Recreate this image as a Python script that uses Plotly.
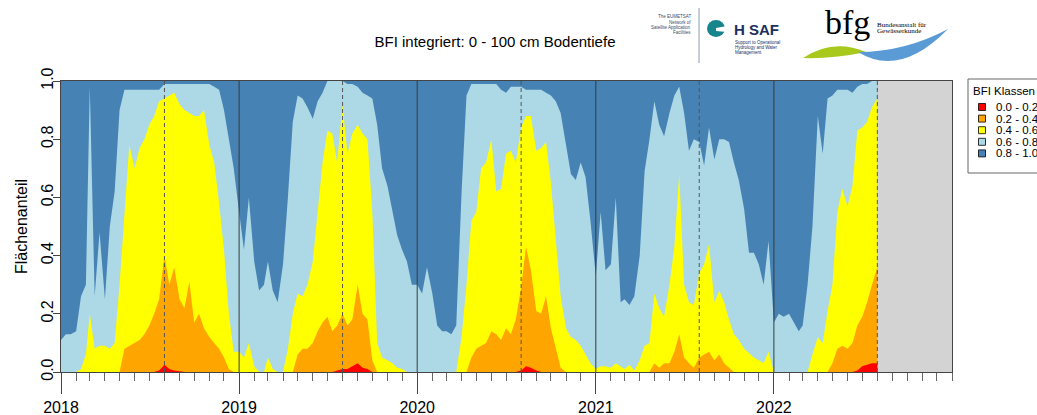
import plotly.graph_objects as go
import pandas as pd

# ---------------- data ----------------
years = [2018, 2019, 2020, 2021, 2022]
year_labels = ["2018", "2019", "2020", "2021", "2022"]
classes = ["0.0 - 0.2", "0.2 - 0.4", "0.4 - 0.6", "0.6 - 0.8", "0.8 - 1.0"]
class_colors = ["#FF0000", "#FFA500", "#FFFF00", "#ADD8E6", "#4682B4"]
y_ticks = [0.0, 0.2, 0.4, 0.6, 0.8, 1.0]
y_ticklabels = ["0.0", "0.2", "0.4", "0.6", "0.8", "1.0"]
last_date = "2022-08-01"

# sampling dates: 1st, 11th, 21st of every month up to the last date
dates = [pd.Timestamp(y, m, d) for y in years for m in range(1, 13) for d in (1, 11, 21)
         if pd.Timestamp(y, m, d) <= pd.Timestamp(last_date)]

# cumulative area share with BFI <= 0.2
share_le_02 = [
    # 2018
    0, 0, 0, 0, 0, 0, 0, 0, 0, 0, 0, 0, 0, 0, 0, 0, 0, 0, 0, 0,
    0.005, 0.025, 0.01, 0.005, 0.003, 0, 0, 0, 0, 0, 0, 0, 0, 0, 0, 0,
    # 2019
    0, 0, 0, 0, 0, 0, 0, 0, 0, 0, 0, 0, 0, 0, 0, 0, 0, 0, 0, 0,
    0.005, 0.01, 0.01, 0.02, 0.03, 0.015, 0.01, 0, 0, 0, 0, 0, 0, 0, 0, 0,
    # 2020
    0, 0, 0, 0, 0, 0, 0, 0, 0, 0, 0, 0, 0, 0, 0, 0, 0, 0, 0, 0, 0,
    0.005, 0.02, 0.015, 0.005, 0, 0, 0, 0, 0, 0, 0, 0, 0, 0, 0,
    # 2021
    0, 0, 0, 0, 0, 0, 0, 0, 0, 0, 0, 0, 0, 0, 0, 0, 0, 0, 0, 0,
    0, 0, 0, 0, 0, 0, 0, 0, 0, 0, 0, 0, 0, 0, 0, 0,
    # 2022
    0, 0, 0, 0, 0, 0, 0, 0, 0, 0, 0, 0, 0, 0, 0, 0, 0,
    0.005, 0.02, 0.025, 0.03, 0.03,
]
# cumulative area share with BFI <= 0.4
share_le_04 = [
    # 2018
    0, 0, 0, 0, 0, 0, 0, 0, 0, 0, 0, 0,
    0.0, 0.08, 0.09, 0.10, 0.11, 0.13, 0.16, 0.20, 0.25, 0.40, 0.30, 0.36,
    0.25, 0.22, 0.31, 0.17, 0.20, 0.15, 0.12, 0.10, 0.08, 0.05, 0.01, 0,
    # 2019
    0, 0, 0, 0, 0, 0, 0, 0, 0, 0, 0,
    0.0, 0.06, 0.08, 0.08, 0.10, 0.14, 0.17, 0.19, 0.14, 0.16, 0.20, 0.16,
    0.18, 0.30, 0.20, 0.18, 0.04, 0, 0, 0, 0, 0, 0, 0, 0,
    # 2020
    0, 0, 0, 0, 0, 0, 0, 0, 0, 0, 0,
    0.05, 0.08, 0.09, 0.10, 0.14, 0.13, 0.11, 0.15, 0.13, 0.18, 0.29, 0.43,
    0.35, 0.21, 0.20, 0.26, 0.15, 0.08, 0.015, 0, 0, 0, 0, 0, 0,
    # 2021
    0, 0, 0, 0, 0, 0, 0, 0, 0, 0, 0, 0,
    0.03, 0.015, 0.03, 0.03, 0.07, 0.13, 0.05, 0.03, 0.015, 0.05, 0.06, 0.07,
    0.04, 0.06, 0.03, 0.015, 0, 0, 0, 0, 0, 0, 0, 0,
    # 2022
    0, 0, 0, 0, 0, 0, 0, 0, 0, 0, 0, 0,
    0.03, 0.08, 0.09, 0.08, 0.10, 0.16, 0.19, 0.24, 0.30, 0.36,
]
# cumulative area share with BFI <= 0.6
share_le_06 = [
    # 2018
    0, 0, 0, 0, 0.01, 0.06, 0.20, 0.08, 0.09, 0.09, 0.08, 0.10,
    0.30, 0.56, 0.78, 0.70, 0.77, 0.80, 0.85, 0.88, 0.93, 0.94, 0.95, 0.96,
    0.92, 0.90, 0.89, 0.88, 0.88, 0.90, 0.78, 0.72, 0.58, 0.42, 0.20, 0.07,
    # 2019
    0.07, 0.05, 0.10, 0.02, 0, 0, 0.05, 0.01, 0, 0, 0.08, 0.20,
    0.27, 0.26, 0.30, 0.38, 0.55, 0.72, 0.83, 0.82, 0.72, 0.92, 0.75, 0.82,
    0.85, 0.82, 0.80, 0.55, 0.10, 0.05, 0.04, 0.03, 0.015, 0.01, 0, 0,
    # 2020
    0, 0, 0, 0, 0, 0, 0, 0, 0, 0.12, 0.30, 0.52,
    0.55, 0.70, 0.72, 0.80, 0.62, 0.63, 0.75, 0.76, 0.72, 0.84, 0.88, 0.88,
    0.76, 0.77, 0.79, 0.65, 0.44, 0.26, 0.15, 0.12, 0.11, 0.09, 0.06, 0.03,
    # 2021
    0.01, 0.02, 0.02, 0.015, 0.03, 0.02, 0.01, 0.025, 0.005, 0.04, 0.09, 0.10,
    0.27, 0.22, 0.19, 0.30, 0.43, 0.68, 0.30, 0.24, 0.23, 0.34, 0.37, 0.44,
    0.24, 0.28, 0.24, 0.18, 0.13, 0.11, 0.08, 0.065, 0.05, 0.04, 0.03, 0.07,
    # 2022
    0, 0, 0, 0, 0, 0, 0, 0, 0.06, 0.12, 0.10, 0.21,
    0.30, 0.55, 0.63, 0.57, 0.64, 0.83, 0.84, 0.86, 0.91, 0.94,
]
# cumulative area share with BFI <= 0.8
share_le_08 = [
    # 2018
    0.11, 0.13, 0.13, 0.14, 0.26, 0.30, 0.98, 0.26, 0.48, 0.25, 0.50, 0.62,
    0.90, 0.97, 0.97, 0.97, 0.97, 0.97, 0.97, 0.97, 0.97, 0.99, 0.99, 0.99,
    0.99, 0.99, 0.99, 0.99, 0.99, 0.99, 0.99, 0.98, 0.97, 0.90, 0.80, 0.70,
    # 2019
    0.55, 0.42, 0.60, 0.38, 0.28, 0.30, 0.38, 0.28, 0.24, 0.37, 0.60, 0.86,
    0.95, 0.94, 0.91, 0.87, 0.93, 0.96, 1.0, 1.0, 1.0, 1.0, 0.99, 0.99,
    0.98, 0.96, 0.95, 0.94, 0.85, 0.70, 0.64, 0.55, 0.47, 0.42, 0.38, 0.30,
    # 2020
    0.30, 0.27, 0.36, 0.27, 0.16, 0.14, 0.14, 0.13, 0.16, 0.62, 0.95, 0.99,
    0.99, 0.99, 0.99, 0.99, 0.99, 0.97, 0.96, 0.98, 0.98, 0.98, 0.97, 0.97,
    0.97, 0.97, 0.96, 0.95, 0.93, 0.89, 0.78, 0.68, 0.66, 0.72, 0.67, 0.52,
    # 2021
    0.33, 0.55, 0.35, 0.37, 0.60, 0.24, 0.25, 0.23, 0.26, 0.40, 0.69, 0.80,
    0.93, 0.85, 0.81, 0.89, 0.95, 0.98, 0.89, 0.76, 0.80, 0.79, 0.71, 0.84,
    0.73, 0.80, 0.80, 0.79, 0.72, 0.66, 0.56, 0.41, 0.41, 0.37, 0.30, 0.45,
    # 2022
    0.17, 0.20, 0.19, 0.20, 0.17, 0.14, 0.16, 0.30, 0.50, 0.88, 0.75, 0.94,
    0.95, 0.97, 0.97, 0.97, 0.96, 0.98, 0.99, 0.99, 1.0, 1.0,
]
# whole area (all classes together)
share_total = [1.0] * len(dates)

# ---------------- figure ----------------
FONT = "Liberation Sans, Arial, Helvetica, sans-serif"
SERIF = "Liberation Serif, Times New Roman, serif"
W, H = 1037, 415
L, R, T, B = 61, 952, 81, 372


def px(x):
    return (x - L) / (R - L)


def py(y):
    return (B - y) / (B - T)


fig = go.Figure()
# draw from the top class downward, each filled to zero
cum_series = [share_le_02, share_le_04, share_le_06, share_le_08, share_total]
for i in range(4, -1, -1):
    fig.add_trace(go.Scatter(
        x=dates, y=cum_series[i], mode="lines", name=classes[i],
        line=dict(width=0, color=class_colors[i]),
        fill="tozeroy", fillcolor=class_colors[i], showlegend=False,
        hoverinfo="x+y+name",
    ))

shapes = []
# no-data region
shapes.append(dict(type="rect", xref="x", yref="paper", x0=last_date, x1="2023-01-01",
                   y0=0, y1=1, fillcolor="#D3D3D3", line=dict(width=0), layer="below"))
# year separators
for y in years[1:]:
    shapes.append(dict(type="line", xref="x", yref="paper", x0=f"{y}-01-01", x1=f"{y}-01-01",
                       y0=0, y1=1, line=dict(color="#3a3a3a", width=1), layer="above"))
# 1 August markers
for y in years:
    shapes.append(dict(type="line", xref="x", yref="paper", x0=f"{y}-08-01", x1=f"{y}-08-01",
                       y0=0, y1=1, line=dict(color="#555555", width=1, dash="4px,3px"),
                       layer="above"))

annotations = []

# ---- manual legend ----
shapes.append(dict(type="rect", xref="paper", yref="paper", x0=px(968), x1=px(1050),
                   y0=py(173), y1=py(79), line=dict(color="#666666", width=1),
                   fillcolor="white", layer="above"))
annotations.append(dict(xref="paper", yref="paper", x=px(971), y=py(91), text="BFI Klassen",
                        showarrow=False, xanchor="left", yanchor="middle",
                        font=dict(family=FONT, size=11.5, color="#000000")))
for i, (lab, col) in enumerate(zip(classes, class_colors)):
    cy = 107 + i * 11.6
    shapes.append(dict(type="rect", xref="paper", yref="paper", x0=px(978.5), x1=px(985.5),
                       y0=py(cy + 3.5), y1=py(cy - 3.5), fillcolor=col,
                       line=dict(color="#000000", width=0.8), layer="above"))
    annotations.append(dict(xref="paper", yref="paper", x=px(994), y=py(cy), text=lab,
                            showarrow=False, xanchor="left", yanchor="middle",
                            font=dict(family=FONT, size=11.5, color="#000000")))

# ---- logos (approximate) ----
for j, line in enumerate(["The EUMETSAT", "Network of", "Satellite Application", "Facilities"]):
    annotations.append(dict(xref="paper", yref="paper", x=px(693), y=py(16.5 + j * 5.5), text=line,
                            showarrow=False, xanchor="right", yanchor="middle",
                            font=dict(family=FONT, size=4.5, color="#3a4a6b")))
shapes.append(dict(type="line", xref="paper", yref="paper", x0=px(699), x1=px(699),
                   y0=py(8), y1=py(63), line=dict(color="#8a9bb0", width=1)))
shapes.append(dict(type="circle", xref="paper", yref="paper", x0=px(707), x1=px(725),
                   y0=py(37), y1=py(20), fillcolor="#17868c", line=dict(width=0)))
shapes.append(dict(type="path", xref="paper", yref="paper",
                   path=f"M{px(716)},{py(28)} L{px(727)},{py(26)} L{px(727)},{py(32)} L{px(716)},{py(31)} Z",
                   fillcolor="white", line=dict(width=0)))
annotations.append(dict(xref="paper", yref="paper", x=px(732), y=py(30), text="<b>H SAF</b>",
                        showarrow=False, xanchor="left", yanchor="middle",
                        font=dict(family=FONT, size=15, color="#1c2f5e")))
for j, line in enumerate(["Support to Operational", "Hydrology and Water", "Management"]):
    annotations.append(dict(xref="paper", yref="paper", x=px(733), y=py(42.5 + j * 5), text=line,
                            showarrow=False, xanchor="left", yanchor="middle",
                            font=dict(family=FONT, size=4.5, color="#1c2f5e")))
shapes.append(dict(type="path", xref="paper", yref="paper",
                   path=(f"M{px(803)},{py(58)} Q{px(833)},{py(38)} {px(866)},{py(52)} "
                         f"Q{px(833)},{py(59)} {px(803)},{py(58)} Z"),
                   fillcolor="#a8c81c", line=dict(width=0)))
shapes.append(dict(type="path", xref="paper", yref="paper",
                   path=(f"M{px(858)},{py(52)} Q{px(905)},{py(52)} {px(948)},{py(29)} "
                         f"Q{px(900)},{py(78)} {px(858)},{py(52)} Z"),
                   fillcolor="#5b9bd5", line=dict(width=0)))
annotations.append(dict(xref="paper", yref="paper", x=px(823), y=py(22), text="bfg",
                        showarrow=False, xanchor="left", yanchor="middle",
                        font=dict(family=SERIF, size=34, color="#000000")))
for j, line in enumerate(["Bundesanstalt für", "Gewässerkunde"]):
    annotations.append(dict(xref="paper", yref="paper", x=px(875), y=py(24.5 + j * 6.5), text=line,
                            showarrow=False, xanchor="left", yanchor="middle",
                            font=dict(family=SERIF, size=7, color="#000000")))

fig.update_layout(
    width=W, height=H,
    margin=dict(l=L, r=W - R, t=T, b=H - B, autoexpand=False),
    paper_bgcolor="white", plot_bgcolor="white",
    font=dict(family=FONT, color="#000000"),
    title=dict(text="BFI integriert: 0 - 100 cm Bodentiefe", x=495 / W, xanchor="center",
               xref="container", y=1 - 42 / H, yanchor="middle", yref="container",
               font=dict(family=FONT, size=15, color="#000000")),
    showlegend=False,
    shapes=shapes,
    annotations=annotations,
    xaxis=dict(
        type="date", range=["2018-01-01", "2023-01-01"],
        tickmode="array", tickvals=[f"{y}-01-01" for y in years], ticktext=year_labels,
        ticks="outside", ticklen=21, tickwidth=1, tickcolor="#444444",
        minor=dict(tickmode="linear", tick0="2018-01-01", dtick="M1", ticks="outside",
                   ticklen=8, tickwidth=1, tickcolor="#666666", showgrid=False),
        showgrid=False, zeroline=False,
        showline=True, mirror=True, linecolor="#444444", linewidth=1,
        tickfont=dict(family=FONT, size=16, color="#000000"),
    ),
    yaxis=dict(
        range=[0, 1], tickmode="array", tickvals=y_ticks, ticktext=y_ticklabels,
        tickangle=-90, ticks="outside", ticklen=7, tickwidth=1, tickcolor="#444444",
        ticklabelstandoff=-6,
        showgrid=False, zeroline=False,
        showline=True, mirror=True, linecolor="#444444", linewidth=1,
        tickfont=dict(family=FONT, size=16, color="#000000"),
        title=dict(text="Flächenanteil", standoff=6, font=dict(family=FONT, size=16, color="#000000")),
    ),
)

fig.write_html("out.html")
